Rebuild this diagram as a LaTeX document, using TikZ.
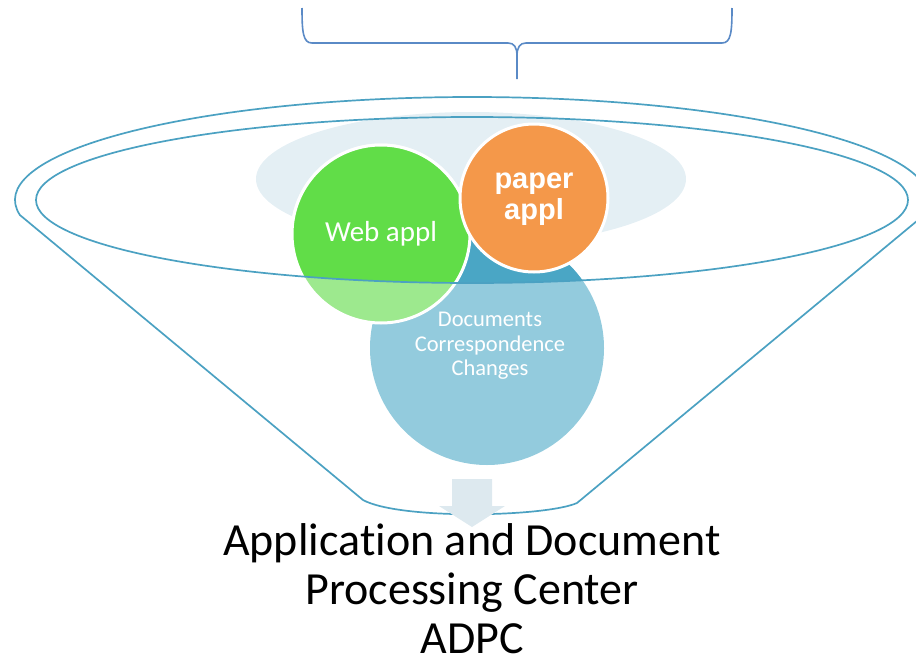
\documentclass[tikz,border=0pt]{standalone}
\usepackage{fontspec}
\setmainfont{Carlito}[Ligatures=NoCommon,RawFeature={-liga;-clig;-dlig}]
\newfontfamily\arialfont{Liberation Sans}
\definecolor{funnelc}{HTML}{4BA1C2}
\definecolor{bgell}{HTML}{E4EFF4}
\definecolor{greendk}{HTML}{61DD48}
\definecolor{greenlt}{HTML}{9DE98E}
\definecolor{bluedk}{HTML}{4AA6C5}
\definecolor{bluelt}{HTML}{93CBDD}
\definecolor{orangec}{HTML}{F4984A}
\definecolor{arrowc}{HTML}{DDE9EF}
\definecolor{bracec}{HTML}{5A8AC6}
\tikzset{
  funnelline/.style={draw=funnelc, line width=1.7pt},
  bracestyle/.style={draw=bracec, line width=1.6pt},
  bubble/.style={circle, inner sep=0pt, text=white, align=center},
  rim/.style={draw=white, line width=3pt},
}
\begin{document}
\begin{tikzpicture}[x=1pt,y=-1pt]
\useasboundingbox (0,0) rectangle (916,664);
\clip (0,0) rectangle (916,664);
% background ellipse
\fill[bgell] (471,179) ellipse [x radius=215, y radius=67];
% circles (light parts, outside rim)
\fill[bluelt] (487,348) circle [radius=117];
\fill[greenlt] (381,234) circle [radius=89];
\draw[rim] (381,234) circle [radius=89];
% parts inside the rim, darker
\begin{scope}
  \clip (472,200) ellipse [x radius=436, y radius=83];
  \fill[bluedk] (487,348) circle [radius=117];
  \fill[greendk] (381,234) circle [radius=89];
  \draw[rim] (381,234) circle [radius=89];
\end{scope}
\fill[orangec] (534,198) circle [radius=74];
\draw[rim] (534,198) circle [radius=74];
% named nodes with their texts
\node[bubble, minimum size=234pt] (docs) at (487,348) {};
\node[bubble, minimum size=178pt] (web) at (381,234) {};
\node[bubble, minimum size=148pt] (paper) at (534,198) {};
\node[text=white, align=center, font=\fontsize{22.5}{24.5}\selectfont] (docstext) at (490,346) {Documents\\Correspondence\\Changes};
\node[text=white, font=\fontsize{29}{31}\selectfont] (webtext) at (web.center) {Web appl};
\node[text=white, align=center, font=\arialfont\bfseries\fontsize{29}{31}\selectfont] (papertext) at (534,199) {paper\\appl};
% funnel
\draw[funnelline] (472,200) ++(171.6:457 and 103) arc [start angle=171.6, end angle=368.4, x radius=457, y radius=103]
  -- (577,503) .. controls (545,517) and (400,520) .. (363,500) -- cycle;
\draw[funnelline] (472,200) ellipse [x radius=436, y radius=83];
% down arrow
\fill[arrowc] (452,479) -- (492,479) -- (492,506) -- (505,506) -- (472,527) -- (439,506) -- (452,506) -- cycle;
% brace
\coordinate (bl) at (302,8);
\coordinate (br) at (732,8);
\coordinate (bt) at (517,79);
\draw[bracestyle] (bl) .. controls (302,32) and (303,43) .. (312,43) -- (508,43)
  .. controls (514,43) and (517,47) .. (517,56) -- (bt);
\draw[bracestyle] (br) .. controls (732,32) and (731,43) .. (722,43) -- (526,43)
  .. controls (520,43) and (517,47) .. (517,56);
% title
\node[align=center, font=\fontsize{46}{49}\selectfont, anchor=base] (adpc) at (472,653) {Applica\kern0pt tion and Document\\Processing Center\\ADPC};
\end{tikzpicture}
\end{document}
